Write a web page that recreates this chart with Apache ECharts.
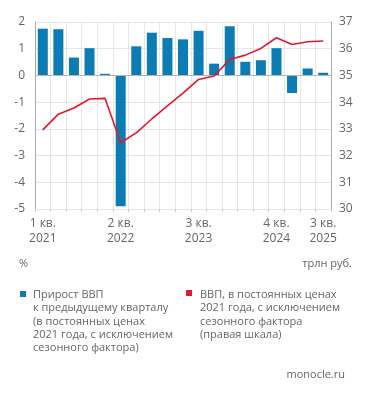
<!DOCTYPE html>
<html><head><meta charset="utf-8">
<script src="https://cdn.jsdelivr.net/npm/echarts@6/dist/echarts.min.js"></script>
<style>html,body{margin:0;padding:0;background:#fff}#c{width:371px;height:397px}</style>
</head><body><div id="c"></div>
<script>
const categories = ['1 кв.\n2021','2 кв. 2021','3 кв. 2021','4 кв. 2021','1 кв. 2022','2 кв.\n2022','3 кв. 2022','4 кв. 2022','1 кв. 2023','2 кв. 2023','3 кв.\n2023','4 кв. 2023','1 кв. 2024','2 кв. 2024','3 кв. 2024','4 кв.\n2024','1 кв. 2025','2 кв. 2025','3 кв.\n2025'];
const labelIdx = [0,5,10,15,18];
const growth = [1.75,1.73,0.67,1.02,0.06,-4.9,1.09,1.6,1.4,1.35,1.67,0.44,1.84,0.51,0.57,1.02,-0.66,0.26,0.1];
const gdp = [32.96,33.55,33.78,34.12,34.14,32.48,32.85,33.37,33.86,34.34,34.85,34.98,35.6,35.76,36.01,36.41,36.16,36.26,36.29];
const leftTicks = {min:-5,max:2,interval:1};
const rightTicks = {min:30,max:37,interval:1};
const legend1 = 'Прирост ВВП\nк предыдущему кварталу\n(в постоянных ценах\n2021 года, с исключением\nсезонного фактора)';
const legend2 = 'ВВП, в постоянных ценах\n2021 года, с исключением\nсезонного фактора\n(правая шкала)';

const FONT = 'Open Sans';
const TXT = '#666';
const SMALL = '11px "Open Sans"';
const chart = echarts.init(document.getElementById('c'), null, {renderer:'canvas'});
chart.setOption({
  animation:false,
  textStyle:{fontFamily:FONT},
  grid:{left:35,right:40,top:22,bottom:188},
  xAxis:{type:'category',data:categories,boundaryGap:true,
    axisLine:{onZero:false,show:false},
    axisTick:{show:true,interval:0,length:3,lineStyle:{color:'#ccc'}},
    splitLine:{show:true,interval:0,lineStyle:{color:'#e6e6e6'}},
    axisLabel:{interval:(i)=>labelIdx.includes(i),color:TXT,fontSize:12,lineHeight:15,margin:7,fontFamily:FONT}
  },
  yAxis:[
    {type:'value',min:leftTicks.min,max:leftTicks.max,interval:leftTicks.interval,
      axisLine:{show:true,lineStyle:{color:'#aaa'}},axisTick:{show:false},
      splitLine:{lineStyle:{color:'#e6e6e6'}},
      axisLabel:{color:TXT,fontSize:12,margin:10,fontFamily:FONT}},
    {type:'value',min:rightTicks.min,max:rightTicks.max,interval:rightTicks.interval,position:'right',
      axisLine:{show:true,lineStyle:{color:'#aaa'}},axisTick:{show:false},
      splitLine:{show:false},
      axisLabel:{color:TXT,fontSize:12,margin:8,fontFamily:FONT}}
  ],
  series:[
    {name:'Прирост ВВП',type:'bar',data:growth,barWidth:10,itemStyle:{color:'#0b7db4'},yAxisIndex:0,
      markLine:{silent:true,symbol:'none',label:{show:false},lineStyle:{color:'#b5b5b5',type:'solid',width:1},data:[{yAxis:0}]}},
    {name:'ВВП',type:'line',data:gdp,yAxisIndex:1,symbol:'none',lineStyle:{color:'#e3172d',width:1.6},z:5}
  ],
  graphic:[
    {type:'text',left:19,top:258,style:{text:'%',fill:TXT,font:SMALL}},
    {type:'text',right:19,top:258,style:{text:'трлн руб.',fill:TXT,font:SMALL}},
    {type:'rect',shape:{x:20,y:291,width:6,height:6},style:{fill:'#0b7db4'}},
    {type:'text',left:33,top:288,style:{text:legend1,fill:TXT,font:SMALL,lineHeight:13.4}},
    {type:'rect',shape:{x:186,y:290,width:6,height:6},style:{fill:'#e3172d'}},
    {type:'text',left:200,top:288,style:{text:legend2,fill:TXT,font:SMALL,lineHeight:13.4}},
    {type:'text',right:26,top:369,style:{text:'monocle.ru',fill:TXT,font:SMALL}}
  ]
});
</script></body></html>
